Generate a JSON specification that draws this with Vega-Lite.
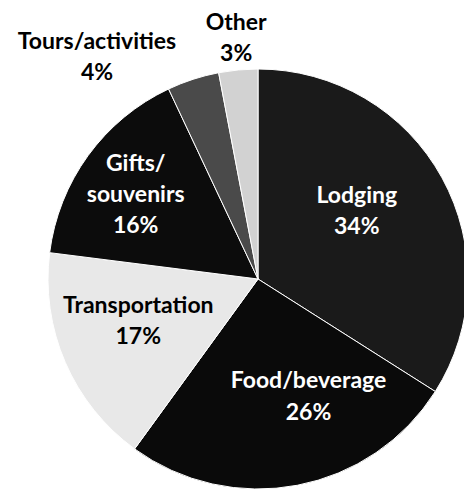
{
  "$schema": "https://vega.github.io/schema/vega-lite/v6.json",
  "width": 420,
  "height": 420,
  "autosize": {"type": "none"},
  "padding": {"left": 48, "top": 69, "right": 0, "bottom": 0},
  "background": "white",
  "config": {"view": {"stroke": null}},
  "data": {
    "values": [
      {"category": "Lodging", "value": 34, "label": "Lodging\n34%"},
      {"category": "Food/beverage", "value": 26, "label": "Food/beverage\n26%"},
      {"category": "Transportation", "value": 17, "label": "Transportation\n17%"},
      {"category": "Gifts/souvenirs", "value": 16, "label": "Gifts/\nsouvenirs\n16%"},
      {"category": "Tours/activities", "value": 4, "label": "Tours/activities\n4%"},
      {"category": "Other", "value": 3, "label": "Other\n3%"}
    ]
  },
  "encoding": {
    "theta": {"field": "value", "type": "quantitative", "stack": true},
    "order": {"field": "value", "type": "quantitative", "sort": "descending"}
  },
  "layer": [
    {
      "mark": {"type": "arc", "outerRadius": 210, "stroke": "#ffffff", "strokeWidth": 1},
      "encoding": {
        "color": {
          "field": "category",
          "type": "nominal",
          "legend": null,
          "scale": {
            "domain": ["Lodging", "Food/beverage", "Transportation", "Gifts/souvenirs", "Tours/activities", "Other"],
            "range": ["#1a1a1a", "#0a0a0a", "#e8e8e8", "#0c0c0c", "#4a4a4a", "#d2d2d2"]
          }
        }
      }
    },
    {
      "mark": {"type": "text", "radius": 115, "dx": -2, "dy": -28, "font": "Lato", "fontSize": 23, "fontWeight": "bold", "fill": "white", "lineBreak": "\n", "lineHeight": 31, "align": "center", "baseline": "middle"},
      "encoding": {"text": {"condition": {"test": "datum.category === 'Lodging'", "field": "label"}, "value": ""}}
    },
    {
      "mark": {"type": "text", "radius": 120, "dx": 28, "dy": -16, "font": "Lato", "fontSize": 23, "fontWeight": "bold", "fill": "white", "lineBreak": "\n", "lineHeight": 32, "align": "center", "baseline": "middle"},
      "encoding": {"text": {"condition": {"test": "datum.category === 'Food/beverage'", "field": "label"}, "value": ""}}
    },
    {
      "mark": {"type": "text", "radius": 125, "dx": -5, "dy": -23, "font": "Lato", "fontSize": 23, "fontWeight": "bold", "fill": "black", "lineBreak": "\n", "lineHeight": 31, "align": "center", "baseline": "middle"},
      "encoding": {"text": {"condition": {"test": "datum.category === 'Transportation'", "field": "label"}, "value": ""}}
    },
    {
      "mark": {"type": "text", "radius": 145, "dx": -5, "dy": -30, "font": "Lato", "fontSize": 23, "fontWeight": "bold", "fill": "white", "lineBreak": "\n", "lineHeight": 31, "align": "center", "baseline": "middle"},
      "encoding": {"text": {"condition": {"test": "datum.category === 'Gifts/souvenirs'", "field": "label"}, "value": ""}}
    },
    {
      "mark": {"type": "text", "radius": 233, "dx": -89, "dy": -15, "font": "Lato", "fontSize": 23, "fontWeight": "bold", "fill": "black", "lineBreak": "\n", "lineHeight": 31, "align": "center", "baseline": "middle"},
      "encoding": {"text": {"condition": {"test": "datum.category === 'Tours/activities'", "field": "label"}, "value": ""}}
    },
    {
      "mark": {"type": "text", "radius": 243, "dx": 1, "dy": -14, "font": "Lato", "fontSize": 23, "fontWeight": "bold", "fill": "black", "lineBreak": "\n", "lineHeight": 31, "align": "center", "baseline": "middle"},
      "encoding": {"text": {"condition": {"test": "datum.category === 'Other'", "field": "label"}, "value": ""}}
    }
  ]
}
